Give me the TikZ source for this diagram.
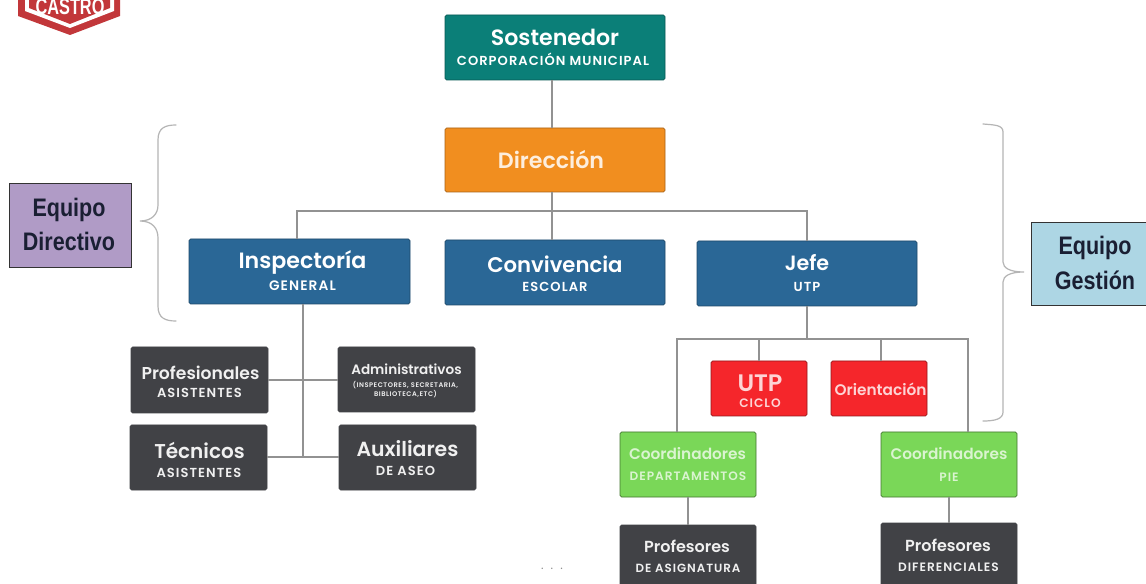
\documentclass[tikz,border=0pt]{standalone}
\usepackage{fontspec}
\setmainfont{Poppins}[BoldFont=*-SemiBold]
\newfontfamily\narrowf[FakeStretch=0.85]{Liberation Sans}
\newfontfamily\logof[FakeStretch=0.72]{Liberation Sans}
\definecolor{teal1}{HTML}{0B7F78}
\definecolor{orange1}{HTML}{F18E1F}
\definecolor{blue1}{HTML}{2A6796}
\definecolor{dark1}{HTML}{414246}
\definecolor{red1}{HTML}{F5262B}
\definecolor{green1}{HTML}{7AD758}
\definecolor{purple1}{HTML}{B09BC6}
\definecolor{sky1}{HTML}{ADD6E4}
\definecolor{line1}{HTML}{929292}
\definecolor{brace1}{HTML}{B5B5B5}
\definecolor{logo1}{HTML}{C2373A}
\definecolor{ink1}{HTML}{1A1F33}
\tikzset{
  x=0.75pt,y=-0.75pt,
  bx/.style={rectangle,rounded corners=1.2pt,inner sep=0pt,outer sep=0pt,text=white,line width=0.6pt},
  tealbox/.style={bx,fill=teal1,draw=teal1!70!black},
  orangebox/.style={bx,fill=orange1,draw=orange1!70!black,text=white!85!orange1},
  bluebox/.style={bx,fill=blue1,draw=blue1!70!black},
  darkbox/.style={bx,fill=dark1,draw=dark1,text=white!92!dark1},
  redbox/.style={bx,fill=red1,draw=red1!60!black,text=white!80!red1},
  greenbox/.style={bx,fill=green1,draw=green1!55!black,text=white!72!green1},
  lbl/.style={rectangle,inner sep=0pt,outer sep=0pt,text=ink1,draw=black!80,line width=0.6pt},
  conn/.style={draw=line1,line width=1pt},
  bracec/.style={draw=brace1,line width=0.9pt,line cap=round}
}
\newcommand\bx[7]{\node[#6,minimum width={(#4-#2)*0.75pt},minimum height={(#5-#3)*0.75pt}] (#1) at ({(#2+#4)/2},{(#3+#5)/2}) {#7};}
% one line of text in a node: x offset, baseline offset (px from node centre), font commands, text
\newcommand\tline[4]{\makebox[0pt][c]{\hspace*{#1\dimexpr1.5pt\relax}\raisebox{-#2\dimexpr.75pt\relax}[0pt][0pt]{#3#4}}}
\newcommand\ttl[4]{\tline{#1}{#2}{\bfseries\fontsize{#3}{#3}\selectfont}{#4}}
\newcommand\sbt[4]{\tline{#1}{#2}{\bfseries\fontsize{#3}{#3}\selectfont\addfontfeature{LetterSpace=8}}{#4}}
\newcommand\nrw[3]{\tline{#1}{#2}{\narrowf\bfseries\fontsize{19}{19}\selectfont}{#3}}
\begin{document}
\begin{tikzpicture}
\useasboundingbox (0,0) rectangle (1146,584);
\clip (0,0) rectangle (1146,584);
\fill[white] (0,0) rectangle (1146,584);
% logo
\fill[logo1] (18,-2) -- (18,16) -- (70,35) -- (120,16) -- (120,-2) -- cycle;
\fill[white] (25,-2) -- (25,11) -- (70,28) -- (114,11) -- (114,-2) -- cycle;
\fill[logo1] (29,-2) -- (29,8) -- (70,24) -- (110,8) -- (110,-2) -- cycle;
\node[inner sep=0pt,text=white] (logotext) at (70,0) {\tline{0}{15}{\logof\bfseries\fontsize{17}{17}\selectfont}{CASTRO}};
% boxes
\bx{sost}{445}{15}{665}{80}{tealbox}{\ttl{0}{-1.5}{16.6}{Sostenedor}\sbt{-2}{18.5}{9.8}{CORPORACIÓN MUNICIPAL}}
\bx{dir}{445}{128}{665}{192}{orangebox}{\ttl{-4}{9}{16.6}{Dirección}}
\bx{insp}{189}{239}{410}{304}{bluebox}{\ttl{3}{-2.5}{16.6}{Inspectoría}\sbt{3}{19.5}{10.3}{GENERAL}}
\bx{conv}{445}{240}{665}{305}{bluebox}{\ttl{0}{0.5}{15.9}{Convivencia}\sbt{0}{19.5}{9.8}{ESCOLAR}}
\bx{jefe}{697}{241}{917}{306}{bluebox}{\ttl{0}{-2.5}{15.5}{Jefe}\sbt{0}{18.5}{9.8}{UTP}}
\bx{prof}{131}{347}{268}{413}{darkbox}{\ttl{1}{0}{12.9}{Profesionales}\sbt{0}{18}{9.8}{ASISTENTES}}
\bx{admi}{338}{347}{475}{412}{darkbox}{\ttl{0}{-4.5}{10.2}{Administrativos}\sbt{-1}{8.5}{5}{(INSPECTORES, SECRETARIA,}\sbt{-1}{17.5}{5}{BIBLIOTECA,ETC)}}
\bx{tecn}{130}{425}{267}{490}{darkbox}{\ttl{1}{1.5}{15}{Técnicos}\sbt{0.5}{20.5}{9.8}{ASISTENTES}}
\bx{auxi}{339}{425}{476}{490}{darkbox}{\ttl{0}{-0.5}{15.3}{Auxiliares}\sbt{-2}{18.5}{9.8}{DE ASEO}}
\bx{utpc}{711}{361}{807}{416}{redbox}{\ttl{1}{3.5}{17.9}{UTP}\sbt{1}{19.5}{9.2}{CICLO}}
\bx{orie}{831}{361}{927}{416}{redbox}{\ttl{1.5}{7}{11.5}{Orientación}}
\bx{cdep}{620}{432}{756}{497}{greenbox}{\ttl{-0.5}{-5}{11.5}{Coordinadores}\sbt{0}{15.5}{9.1}{DEPARTAMENTOS}}
\bx{cpie}{881}{432}{1017}{497}{greenbox}{\ttl{0}{-5}{11.5}{Coordinadores}\sbt{0}{16.5}{9.1}{PIE}}
\bx{pasi}{620}{525}{756}{592}{darkbox}{\ttl{-1}{-5.5}{12}{Profesores}\sbt{0}{14}{8.9}{DE ASIGNATURA}}
\bx{pdif}{881}{523}{1017}{590}{darkbox}{\ttl{-1}{-5.5}{12}{Profesores}\sbt{-0.5}{15}{9.1}{DIFERENCIALES}}
% side labels
\bx{eqd}{9}{183}{131}{267}{lbl,fill=purple1}{\nrw{-1}{-8}{Equipo}\nrw{-1}{26}{Directivo}}
\bx{eqg}{1031}{222}{1152}{305}{lbl,fill=sky1}{\nrw{3.5}{-8.5}{Equipo}\nrw{3.5}{26.5}{Gestión}}
% connector junctions
\coordinate (spine) at (552,211);
\coordinate (busa) at (297,211);
\coordinate (busb) at (807,211);
\coordinate (trunk) at (303,457);
\coordinate (rowa) at (303,380);
\coordinate (busc) at (677,339);
\coordinate (busd) at (968,339);
\coordinate (utpj) at (759,339);
\coordinate (orij) at (881,339);
% connectors
\draw[conn] (sost.south -| spine) -- (dir.north -| spine);
\draw[conn] (dir.south -| spine) -- (conv.north -| spine);
\draw[conn] (insp.north -| busa) -- (busa) -- (busb) -- (jefe.north -| busb);
\draw[conn] (insp.south -| trunk) -- (trunk);
\draw[conn] (prof.east |- rowa) -- (admi.west |- rowa);
\draw[conn] (tecn.east |- trunk) -- (auxi.west |- trunk);
\draw[conn] (jefe.south -| busb) -- (busb |- busc);
\draw[conn] (cdep.north -| busc) -- (busc) -- (busd) -- (cpie.north -| busd);
\draw[conn] (utpj) -- (utpc.north -| utpj);
\draw[conn] (orij) -- (orie.north -| orij);
\draw[conn] (cdep.south) -- (pasi.north);
\draw[conn] (cpie.south) -- (pdif.north);
% braces
\draw[bracec] (176,125) .. controls (165,125) and (158,128) .. (158,140) -- (158,205) .. controls (158,214) and (152,221) .. (140,221) .. controls (152,221) and (158,228) .. (158,238) -- (158,306) .. controls (158,318) and (165,321) .. (176,321);
\draw[bracec] (983,124) .. controls (995,125) and (1003,125) .. (1003,132) -- (1003,262) .. controls (1003,268) and (1010,272) .. (1024,272) .. controls (1010,272) and (1003,276) .. (1003,282) -- (1003,412) .. controls (1003,419) and (995,421) .. (983,421);
% dots
\node[inner sep=0pt,text=black!45] (dots) at (552,566) {\tline{0}{3}{\fontsize{9}{9}\selectfont\addfontfeature{LetterSpace=60}}{...}};
\end{tikzpicture}
\end{document}
